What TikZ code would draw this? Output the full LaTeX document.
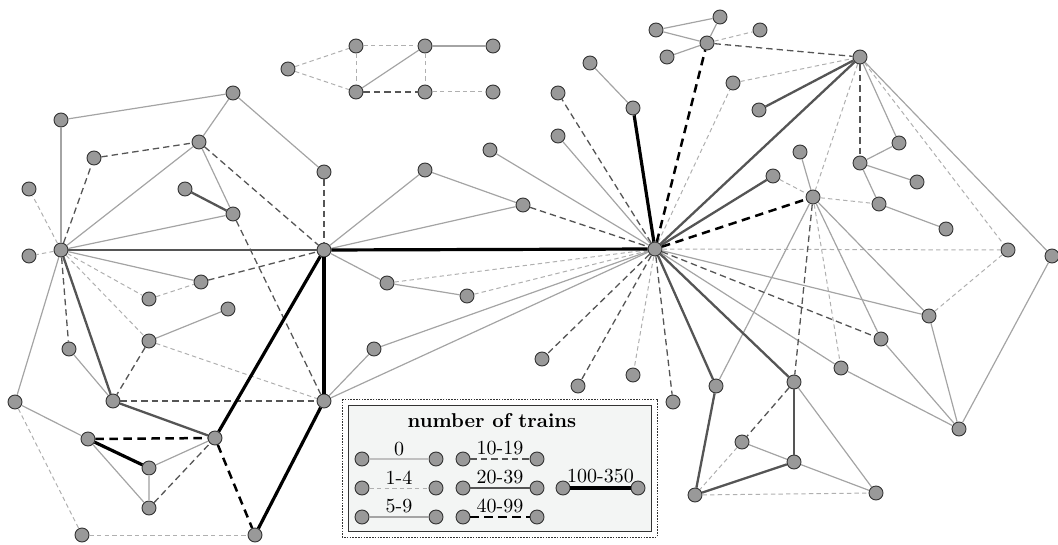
\documentclass[tikz,border=0pt]{standalone}
\begin{document}
\definecolor{nodefill}{HTML}{999999}
\definecolor{lineZero}{HTML}{C0C0C0}
\definecolor{lineLite}{HTML}{A4A4A4}
\definecolor{lineDash}{HTML}{B0B0B0}
\definecolor{lineDark}{HTML}{555555}
\definecolor{legendbg}{HTML}{F3F5F4}
\begin{tikzpicture}[x=0.5pt,y=-0.5pt,
  stn/.style={circle,draw=black!80,fill=nodefill,line width=0.45pt,minimum size=7pt,inner sep=0pt},
  ezero/.style={draw=lineZero,line width=0.55pt},
  eone/.style={draw=lineDash,line width=0.5pt,dash pattern=on 2.2pt off 1.6pt},
  efive/.style={draw=lineLite,line width=0.6pt},
  eten/.style={draw=lineDark,line width=0.65pt,dash pattern=on 3.2pt off 2pt},
  etwenty/.style={draw=lineDark,line width=1.15pt},
  eforty/.style={draw=black,line width=1.25pt,dash pattern=on 4.2pt off 2.8pt},
  ehundred/.style={draw=black,line width=1.6pt},
  lbl/.style={above,inner sep=1.5pt,font=\normalsize}]
\useasboundingbox (0,0) rectangle (1058,545);

% ---------- stations ----------
\node[stn] (A) at (61,250) {};
\node[stn] (B) at (324,250) {};
\node[stn] (C) at (655,249) {};
\node[stn] (H2) at (860,57) {};
\node[stn] (n1) at (233,93) {};
\node[stn] (n2) at (61,120) {};
\node[stn] (n3) at (199,142) {};
\node[stn] (n4) at (94,158) {};
\node[stn] (n5) at (29,189) {};
\node[stn] (n6) at (185,189) {};
\node[stn] (n7) at (233,214) {};
\node[stn] (n8) at (324,172) {};
\node[stn] (n9) at (29,256) {};
\node[stn] (n10) at (201,282) {};
\node[stn] (n11) at (149,299) {};
\node[stn] (n12) at (228,309) {};
\node[stn] (n13) at (149,341) {};
\node[stn] (n14) at (69,349) {};
\node[stn] (n15) at (15,402) {};
\node[stn] (n16) at (113,401) {};
\node[stn] (n17) at (324,401) {};
\node[stn] (n18) at (88,439) {};
\node[stn] (n19) at (215,438) {};
\node[stn] (n20) at (149,468) {};
\node[stn] (n21) at (149,508) {};
\node[stn] (n22) at (82,535) {};
\node[stn] (n23) at (255,535) {};
\node[stn] (m1) at (288,69) {};
\node[stn] (m2) at (356,46) {};
\node[stn] (m3) at (425,46) {};
\node[stn] (m4) at (493,46) {};
\node[stn] (m5) at (356,92) {};
\node[stn] (m6) at (425,92) {};
\node[stn] (m7) at (493,92) {};
\node[stn] (c1) at (425,170) {};
\node[stn] (c2) at (490,150) {};
\node[stn] (c3) at (523,205) {};
\node[stn] (c4) at (387,283) {};
\node[stn] (c5) at (467,296) {};
\node[stn] (c6) at (374,349) {};
\node[stn] (r1) at (720,17) {};
\node[stn] (r2) at (656,30) {};
\node[stn] (r3) at (760,30) {};
\node[stn] (r4) at (707,43) {};
\node[stn] (r5) at (667,57) {};
\node[stn] (r6) at (590,63) {};
\node[stn] (r7) at (733,83) {};
\node[stn] (r8) at (558,93) {};
\node[stn] (r9) at (633,108) {};
\node[stn] (r10) at (759,110) {};
\node[stn] (r11) at (558,136) {};
\node[stn] (r12) at (800,152) {};
\node[stn] (r13) at (773,176) {};
\node[stn] (r14) at (813,197) {};
\node[stn] (s1) at (899,143) {};
\node[stn] (s2) at (860,163) {};
\node[stn] (s3) at (917,182) {};
\node[stn] (s4) at (879,204) {};
\node[stn] (s5) at (946,229) {};
\node[stn] (s6) at (1008,250) {};
\node[stn] (s7) at (1052,256) {};
\node[stn] (t1) at (929,316) {};
\node[stn] (t2) at (881,339) {};
\node[stn] (t3) at (841,368) {};
\node[stn] (t4) at (794,382) {};
\node[stn] (t5) at (959,429) {};
\node[stn] (t6) at (794,462) {};
\node[stn] (t7) at (876,493) {};
\node[stn] (u1) at (542,359) {};
\node[stn] (u2) at (578,386) {};
\node[stn] (u3) at (633,375) {};
\node[stn] (u4) at (673,402) {};
\node[stn] (u5) at (716,386) {};
\node[stn] (u6) at (742,442) {};
\node[stn] (u7) at (695,495) {};

% ---------- connections ----------
% 0 trains
\draw[ezero] (n20) -- (n21);
% 1-4 trains
\draw[eone] (A) -- (n5);
\draw[eone] (A) -- (n9);
\draw[eone] (A) -- (n11);
\draw[eone] (A) -- (n13);
\draw[eone] (n11) -- (n10);
\draw[eone] (n13) -- (n17);
\draw[eone] (n15) -- (n22);
\draw[eone] (n22) -- (n23);
\draw[eone] (m1) -- (m2);
\draw[eone] (m1) -- (m5);
\draw[eone] (m2) -- (m3);
\draw[eone] (m2) -- (m5);
\draw[eone] (m3) -- (m6);
\draw[eone] (m6) -- (m7);
\draw[eone] (c4) -- (C);
\draw[eone] (c5) -- (C);
\draw[eone] (C) -- (r7);
\draw[eone] (C) -- (s6);
\draw[eone] (C) -- (u3);
\draw[eone] (r7) -- (H2);
\draw[eone] (r4) -- (r3);
\draw[eone] (r13) -- (r14);
\draw[eone] (H2) -- (r14);
\draw[eone] (H2) -- (s6);
\draw[eone] (r14) -- (s4);
\draw[eone] (s6) -- (t1);
\draw[eone] (r14) -- (t3);
\draw[eone] (u6) -- (u7);
\draw[eone] (u7) -- (t7);
% 5-9 trains
\draw[efive] (A) -- (n2);
\draw[efive] (A) -- (n3);
\draw[efive] (A) -- (n7);
\draw[efive] (A) -- (n10);
\draw[efive] (A) -- (n15);
\draw[efive] (n2) -- (n1);
\draw[efive] (n1) -- (n3);
\draw[efive] (n1) -- (n8);
\draw[efive] (n3) -- (n7);
\draw[efive] (n13) -- (n12);
\draw[efive] (n14) -- (n16);
\draw[efive] (n15) -- (n18);
\draw[efive] (n18) -- (n21);
\draw[efive] (n20) -- (n19);
\draw[efive] (m3) -- (m4);
\draw[efive] (m3) -- (m5);
\draw[efive] (B) -- (c1);
\draw[efive] (c1) -- (c3);
\draw[efive] (B) -- (c3);
\draw[efive] (B) -- (c4);
\draw[efive] (c4) -- (c5);
\draw[efive] (c2) -- (C);
\draw[efive] (c6) -- (C);
\draw[efive] (n17) -- (C);
\draw[efive] (c6) -- (n17);
\draw[efive] (r9) -- (r6);
\draw[efive] (C) -- (r11);
\draw[efive] (C) -- (t1);
\draw[efive] (C) -- (t3);
\draw[efive] (r4) -- (r1);
\draw[efive] (r4) -- (r2);
\draw[efive] (r4) -- (r5);
\draw[efive] (r2) -- (r1);
\draw[efive] (r12) -- (r14);
\draw[efive] (H2) -- (s1);
\draw[efive] (H2) -- (s7);
\draw[efive] (s2) -- (s1);
\draw[efive] (s2) -- (s3);
\draw[efive] (s2) -- (s4);
\draw[efive] (s4) -- (s5);
\draw[efive] (s7) -- (t5);
\draw[efive] (t1) -- (t5);
\draw[efive] (t2) -- (t5);
\draw[efive] (t3) -- (t5);
\draw[efive] (r14) -- (u5);
\draw[efive] (r14) -- (t2);
\draw[efive] (r14) -- (t1);
\draw[efive] (t4) -- (t7);
\draw[efive] (t6) -- (t7);
\draw[efive] (t6) -- (u6);
% 10-19 trains
\draw[eten] (A) -- (n4);
\draw[eten] (A) -- (n14);
\draw[eten] (n4) -- (n3);
\draw[eten] (n3) -- (B);
\draw[eten] (n7) -- (n17);
\draw[eten] (n8) -- (B);
\draw[eten] (n10) -- (B);
\draw[eten] (n13) -- (n16);
\draw[eten] (n16) -- (n17);
\draw[eten] (n21) -- (n19);
\draw[eten] (m5) -- (m6);
\draw[eten] (c3) -- (C);
\draw[eten] (C) -- (r8);
\draw[eten] (C) -- (t2);
\draw[eten] (C) -- (u4);
\draw[eten] (C) -- (u2);
\draw[eten] (C) -- (u1);
\draw[eten] (r4) -- (H2);
\draw[eten] (H2) -- (s2);
\draw[eten] (r14) -- (t4);
\draw[eten] (t4) -- (u6);
% 20-39 trains
\draw[etwenty] (A) -- (B);
\draw[etwenty] (A) -- (n16);
\draw[etwenty] (n6) -- (n7);
\draw[etwenty] (n16) -- (n19);
\draw[etwenty] (C) -- (H2);
\draw[etwenty] (C) -- (r13);
\draw[etwenty] (C) -- (t4);
\draw[etwenty] (C) -- (u5);
\draw[etwenty] (r10) -- (H2);
\draw[etwenty] (t4) -- (t6);
\draw[etwenty] (t6) -- (u7);
\draw[etwenty] (u7) -- (u5);
% 40-99 trains
\draw[eforty] (n18) -- (n19);
\draw[eforty] (n19) -- (n23);
\draw[eforty] (C) -- (r4);
\draw[eforty] (C) -- (r14);
% 100-350 trains
\draw[ehundred] (n18) -- (n20);
\draw[ehundred] (n19) -- (B);
\draw[ehundred] (n23) -- (n17);
\draw[ehundred] (B) -- (n17);
\draw[ehundred] (B) -- (C);
\draw[ehundred] (C) -- (r9);

% ---------- legend ----------
\draw[draw=black!80,line width=0.5pt,dash pattern=on 0.8pt off 0.6pt] (342,399) rectangle (657,537);
\draw[draw=black!80,line width=0.5pt,fill=legendbg] (348,405) rectangle (651,531);
\node[font=\bfseries] (ltitle) at (492,421) {number of trains};
\node[stn] (la0) at (362,459) {};  \node[stn] (lb0) at (436,459) {};
\node[stn] (la1) at (362,488) {};  \node[stn] (lb1) at (436,488) {};
\node[stn] (la5) at (362,517) {};  \node[stn] (lb5) at (436,517) {};
\node[stn] (la10) at (463,459) {}; \node[stn] (lb10) at (537,459) {};
\node[stn] (la20) at (463,488) {}; \node[stn] (lb20) at (537,488) {};
\node[stn] (la40) at (463,517) {}; \node[stn] (lb40) at (537,517) {};
\node[stn] (la100) at (563,488) {}; \node[stn] (lb100) at (638,488) {};
\draw[ezero] (la0) -- node[lbl] {0} (lb0);
\draw[eone] (la1) -- node[lbl] {1-4} (lb1);
\draw[efive] (la5) -- node[lbl] {5-9} (lb5);
\draw[eten] (la10) -- node[lbl] {10-19} (lb10);
\draw[etwenty] (la20) -- node[lbl] {20-39} (lb20);
\draw[eforty] (la40) -- node[lbl] {40-99} (lb40);
\draw[ehundred] (la100) -- node[lbl] {100-350} (lb100);
\end{tikzpicture}
\end{document}
